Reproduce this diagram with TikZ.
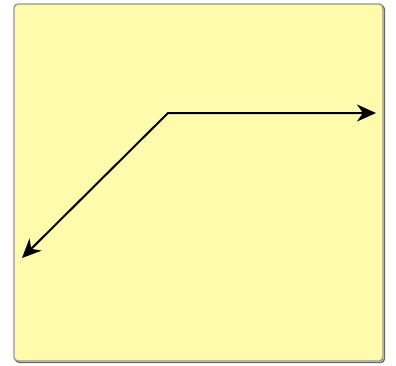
\documentclass[tikz,border=0pt]{standalone}
\usetikzlibrary{arrows.meta}
\definecolor{panelfill}{RGB}{255,251,172}
\definecolor{panelborder}{RGB}{150,150,140}
\tikzset{
  panel/.style={fill=panelfill, draw=panelborder, line width=1.4pt, rounded corners=4pt},
  conn/.style={line width=2pt, black, {Stealth[length=19pt,width=17pt,inset=6pt]}-{Stealth[length=19pt,width=17pt,inset=6pt]}}
}
\begin{document}
\begin{tikzpicture}[x=1pt,y=-1pt]
\useasboundingbox (0,0) rectangle (396,365);
\fill[white] (0,0) rectangle (396,365);
\draw[panelborder!70!black, line width=1.4pt, rounded corners=4pt] (15.5,5.5) rectangle (384.5,362.5);
\draw[panel] (14,4) rectangle (383,361);
\coordinate (j) at (168,113);
\coordinate (r) at (376,113);
\coordinate (l) at (22,258);
\draw[conn] (l) -- (j) -- (r);
\end{tikzpicture}
\end{document}
